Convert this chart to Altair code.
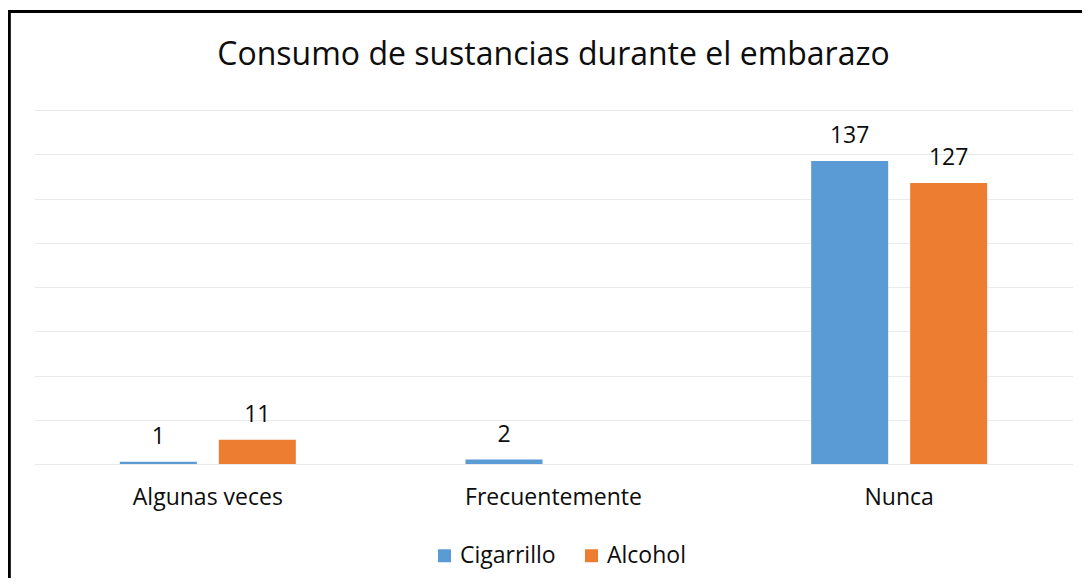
import altair as alt
import pandas as pd

categories = ["Algunas veces", "Frecuentemente", "Nunca"]
series = ["Cigarrillo", "Alcohol"]
cigarrillo = [1, 2, 137]
alcohol = [11, None, 127]
colors = ["#5B9BD5", "#ED7D31"]

rows = []
for i, c in enumerate(categories):
    rows.append({"cat": c, "serie": "Cigarrillo", "order": 0, "val": cigarrillo[i]})
    rows.append({"cat": c, "serie": "Alcohol", "order": 1, "val": alcohol[i]})
df = pd.DataFrame(rows)

FONT = "Open Sans"
TXT = "#0d0d0d"

x = alt.X("cat:N", sort=categories, title=None,
          scale=alt.Scale(paddingInner=0, paddingOuter=0),
          axis=alt.Axis(labelAngle=0, domain=False, ticks=False, labelFontSize=23,
                        labelPadding=22, labelColor=TXT, labelFont=FONT, grid=False))
xo = alt.XOffset("serie:N", sort=series,
                 scale=alt.Scale(paddingInner=0.222, paddingOuter=0.857))
y = alt.Y("val:Q", title=None,
          scale=alt.Scale(domain=[0, 160], nice=False),
          axis=alt.Axis(values=list(range(0, 161, 20)), labels=False, ticks=False, domain=False,
                        grid=True, gridColor="#d4d4d4", gridDash=[1, 1], gridWidth=1))
color = alt.Color("serie:N", sort=series,
                  scale=alt.Scale(domain=series, range=colors),
                  legend=alt.Legend(title=None, orient="none", direction="horizontal",
                                    legendX=398, legendY=434, symbolType="square",
                                    symbolSize=169, symbolStrokeWidth=0, labelFontSize=23,
                                    labelFont=FONT, labelColor=TXT, labelOffset=4,
                                    columnPadding=24))

base = alt.Chart(df)
bars = base.transform_filter("datum.val != null").mark_bar().encode(x=x, xOffset=xo, y=y, color=color)
labels = base.transform_filter("datum.val != null").mark_text(
    baseline="middle", dy=-25, fontSize=23, font=FONT, color=TXT
).encode(x=x, xOffset=xo, y=y, text=alt.Text("val:Q"))

border_top = base.mark_rule(color="#000000", strokeWidth=2.5).encode(
    x=alt.value(-27), x2=alt.value(1100), y=alt.value(-98.7))
border_left = base.mark_rule(color="#000000", strokeWidth=2.5).encode(
    x=alt.value(-26), y=alt.value(-98.7), y2=alt.value(600))

chart = alt.layer(bars, labels, border_top, border_left).properties(
    width=1037, height=354,
    title=alt.Title("Consumo de sustancias durante el embarazo", fontSize=32, font=FONT,
                    fontWeight="normal", color=TXT, anchor="middle", offset=-87,
                    baseline="alphabetic"),
    autosize=alt.AutoSizeParams(type="none"),
    padding={"left": 27, "top": 102, "right": 10, "bottom": 114},
).configure_view(stroke=None)

chart.save("out.html", embed_options={"renderer": "svg", "actions": False})
